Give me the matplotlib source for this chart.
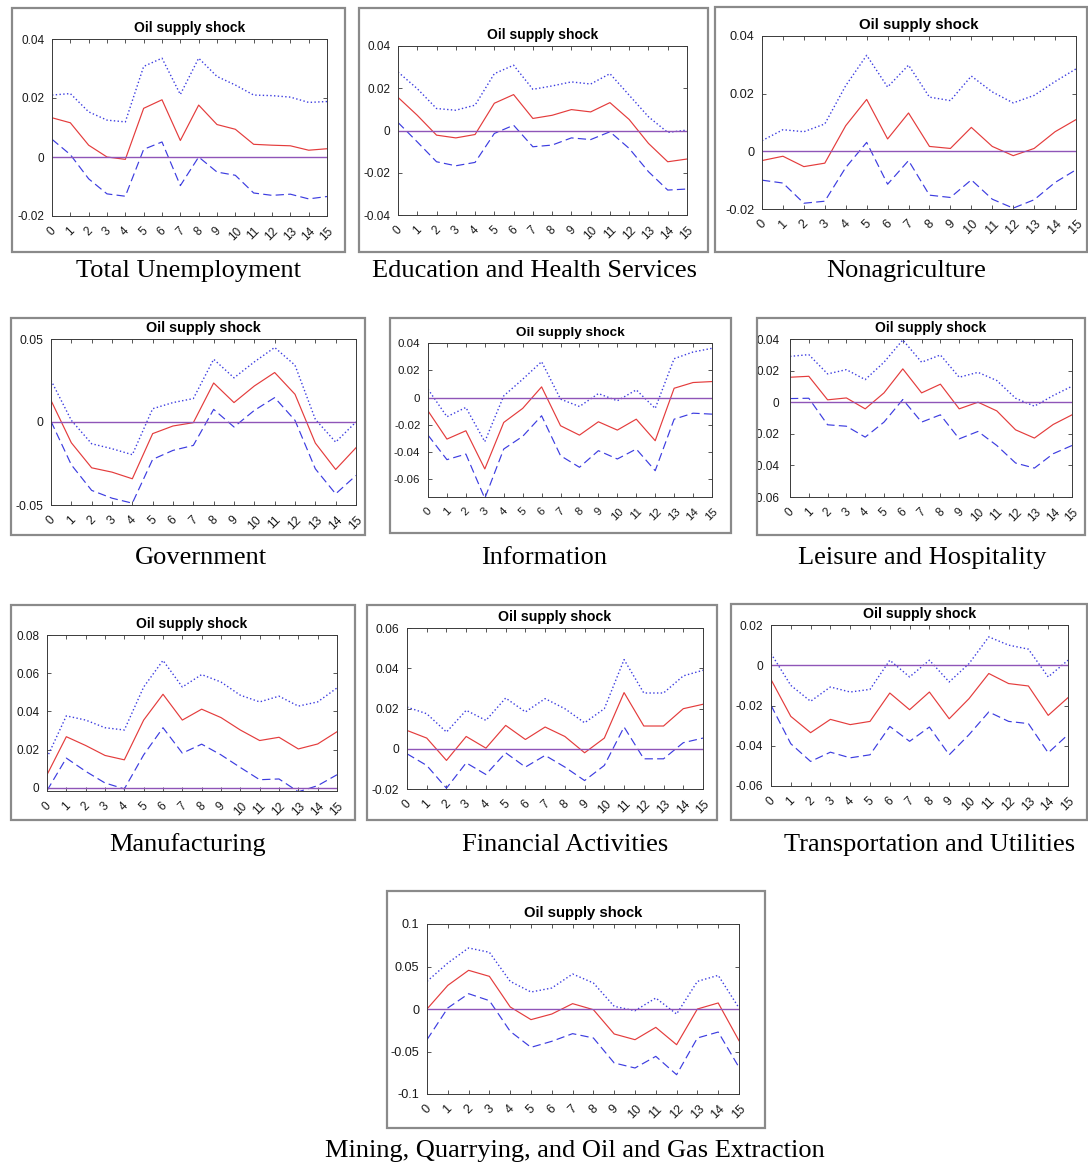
import matplotlib
matplotlib.use("Agg")
import matplotlib.pyplot as plt
from matplotlib.patches import Rectangle
from matplotlib.transforms import Bbox, TransformedBbox
from matplotlib.ticker import FixedLocator, FuncFormatter

plt.rcParams["axes.unicode_minus"] = False

horizons = list(range(16))

# Impulse responses to an oil supply shock: point estimate, upper and lower bands
total_unemp_irf = [0.0133, 0.0116, 0.0040, 0.0000, -0.0008, 0.0165, 0.0194, 0.0056, 0.0176, 0.0110, 0.0094, 0.0043, 0.0040, 0.0038, 0.0023, 0.0028]
total_unemp_hi = [0.0210, 0.0215, 0.0153, 0.0125, 0.0119, 0.0307, 0.0335, 0.0212, 0.0335, 0.0273, 0.0244, 0.0210, 0.0208, 0.0203, 0.0185, 0.0188]
total_unemp_lo = [0.0060, 0.0008, -0.0074, -0.0125, -0.0133, 0.0026, 0.0051, -0.0097, 0.0000, -0.0051, -0.0062, -0.0122, -0.0130, -0.0126, -0.0142, -0.0134]

education_irf = [0.0157, 0.0072, -0.0022, -0.0035, -0.0019, 0.0129, 0.0170, 0.0057, 0.0072, 0.0099, 0.0088, 0.0132, 0.0052, -0.0061, -0.0148, -0.0135]
education_hi = [0.0277, 0.0198, 0.0104, 0.0096, 0.0120, 0.0269, 0.0309, 0.0195, 0.0211, 0.0230, 0.0220, 0.0269, 0.0167, 0.0065, -0.0009, 0.0002]
education_lo = [0.0038, -0.0054, -0.0148, -0.0167, -0.0151, -0.0014, 0.0025, -0.0077, -0.0069, -0.0035, -0.0043, -0.0006, -0.0085, -0.0195, -0.0282, -0.0277]

nonag_irf = [-0.0032, -0.0017, -0.0053, -0.0041, 0.0089, 0.0180, 0.0043, 0.0133, 0.0017, 0.0010, 0.0083, 0.0017, -0.0015, 0.0010, 0.0068, 0.0110]
nonag_hi = [0.0037, 0.0075, 0.0068, 0.0095, 0.0228, 0.0333, 0.0223, 0.0299, 0.0188, 0.0176, 0.0261, 0.0206, 0.0168, 0.0194, 0.0242, 0.0286]
nonag_lo = [-0.0100, -0.0110, -0.0180, -0.0173, -0.0056, 0.0031, -0.0114, -0.0032, -0.0152, -0.0160, -0.0099, -0.0166, -0.0197, -0.0168, -0.0108, -0.0064]

government_irf = [0.0130, -0.0125, -0.0276, -0.0302, -0.0342, -0.0070, -0.0024, -0.0004, 0.0235, 0.0117, 0.0217, 0.0298, 0.0167, -0.0127, -0.0286, -0.0155]
government_hi = [0.0251, 0.0010, -0.0131, -0.0161, -0.0197, 0.0080, 0.0117, 0.0141, 0.0378, 0.0266, 0.0362, 0.0449, 0.0342, 0.0016, -0.0121, 0.0000]
government_lo = [0.0004, -0.0258, -0.0412, -0.0459, -0.0489, -0.0225, -0.0171, -0.0141, 0.0076, -0.0030, 0.0070, 0.0147, 0.0010, -0.0282, -0.0433, -0.0322]

information_irf = [-0.0098, -0.0305, -0.0244, -0.0524, -0.0183, -0.0080, 0.0078, -0.0207, -0.0276, -0.0178, -0.0239, -0.0159, -0.0317, 0.0068, 0.0110, 0.0117]
information_hi = [0.0061, -0.0141, -0.0073, -0.0324, 0.0012, 0.0134, 0.0263, -0.0012, -0.0066, 0.0029, -0.0024, 0.0056, -0.0080, 0.0285, 0.0334, 0.0361]
information_lo = [-0.0276, -0.0456, -0.0415, -0.0740, -0.0378, -0.0285, -0.0134, -0.0427, -0.0512, -0.0390, -0.0451, -0.0378, -0.0537, -0.0159, -0.0115, -0.0122]

leisure_irf = [0.0158, 0.0164, 0.0015, 0.0027, -0.0042, 0.0059, 0.0211, 0.0059, 0.0114, -0.0042, 0.0000, -0.0055, -0.0175, -0.0227, -0.0141, -0.0080]
leisure_hi = [0.0290, 0.0301, 0.0179, 0.0206, 0.0143, 0.0253, 0.0394, 0.0253, 0.0299, 0.0158, 0.0189, 0.0137, 0.0025, -0.0025, 0.0042, 0.0101]
leisure_lo = [0.0023, 0.0025, -0.0143, -0.0152, -0.0221, -0.0126, 0.0017, -0.0126, -0.0080, -0.0232, -0.0185, -0.0274, -0.0385, -0.0417, -0.0326, -0.0274]

manufacturing_irf = [0.0069, 0.0268, 0.0222, 0.0170, 0.0147, 0.0355, 0.0490, 0.0355, 0.0412, 0.0368, 0.0303, 0.0248, 0.0265, 0.0204, 0.0230, 0.0294]
manufacturing_hi = [0.0159, 0.0377, 0.0355, 0.0315, 0.0303, 0.0528, 0.0667, 0.0528, 0.0593, 0.0554, 0.0485, 0.0450, 0.0480, 0.0428, 0.0450, 0.0523]
manufacturing_lo = [-0.0014, 0.0156, 0.0087, 0.0026, -0.0005, 0.0173, 0.0315, 0.0182, 0.0229, 0.0173, 0.0107, 0.0043, 0.0047, -0.0020, 0.0012, 0.0069]

financial_irf = [0.0091, 0.0053, -0.0058, 0.0061, 0.0003, 0.0116, 0.0046, 0.0108, 0.0061, -0.0020, 0.0053, 0.0279, 0.0113, 0.0113, 0.0199, 0.0221]
financial_hi = [0.0207, 0.0174, 0.0083, 0.0191, 0.0141, 0.0252, 0.0183, 0.0249, 0.0199, 0.0129, 0.0199, 0.0443, 0.0277, 0.0277, 0.0362, 0.0390]
financial_lo = [-0.0025, -0.0083, -0.0196, -0.0070, -0.0128, -0.0020, -0.0091, -0.0033, -0.0091, -0.0158, -0.0083, 0.0108, -0.0050, -0.0050, 0.0030, 0.0053]

transport_irf = [-0.0071, -0.0254, -0.0335, -0.0269, -0.0295, -0.0279, -0.0138, -0.0221, -0.0133, -0.0266, -0.0166, -0.0041, -0.0091, -0.0103, -0.0249, -0.0161]
transport_hi = [0.0058, -0.0100, -0.0179, -0.0108, -0.0133, -0.0120, 0.0025, -0.0058, 0.0025, -0.0083, 0.0008, 0.0141, 0.0100, 0.0080, -0.0058, 0.0025]
transport_lo = [-0.0199, -0.0390, -0.0478, -0.0432, -0.0460, -0.0445, -0.0304, -0.0378, -0.0307, -0.0445, -0.0345, -0.0232, -0.0279, -0.0290, -0.0435, -0.0345]

mining_irf = [0.0000, 0.0278, 0.0455, 0.0384, 0.0024, -0.0125, -0.0059, 0.0063, -0.0008, -0.0294, -0.0361, -0.0216, -0.0420, 0.0000, 0.0071, -0.0373]
mining_hi = [0.0325, 0.0541, 0.0718, 0.0667, 0.0325, 0.0200, 0.0247, 0.0412, 0.0306, 0.0031, -0.0020, 0.0129, -0.0059, 0.0325, 0.0396, 0.0012]
mining_lo = [-0.0361, 0.0012, 0.0180, 0.0098, -0.0263, -0.0451, -0.0380, -0.0290, -0.0341, -0.0635, -0.0694, -0.0557, -0.0773, -0.0341, -0.0271, -0.0686]

sector_names = [
    "Total Unemployment", "Education and Health Services", "Nonagriculture",
    "Government", "Information", "Leisure and Hospitality",
    "Manufacturing", "Financial Activities", "Transportation and Utilities",
    "Mining, Quarrying, and Oil and Gas Extraction",
]
irf_series = [total_unemp_irf, education_irf, nonag_irf, government_irf, information_irf,
              leisure_irf, manufacturing_irf, financial_irf, transport_irf, mining_irf]
upper_series = [total_unemp_hi, education_hi, nonag_hi, government_hi, information_hi,
                leisure_hi, manufacturing_hi, financial_hi, transport_hi, mining_hi]
lower_series = [total_unemp_lo, education_lo, nonag_lo, government_lo, information_lo,
                leisure_lo, manufacturing_lo, financial_lo, transport_lo, mining_lo]

y_ticks = [
    [-0.02, 0, 0.02, 0.04],
    [-0.04, -0.02, 0, 0.02, 0.04],
    [-0.02, 0, 0.02, 0.04],
    [-0.05, 0, 0.05],
    [-0.06, -0.04, -0.02, 0, 0.02, 0.04],
    [-0.06, -0.04, -0.02, 0, 0.02, 0.04],
    [0, 0.02, 0.04, 0.06, 0.08],
    [-0.02, 0, 0.02, 0.04, 0.06],
    [-0.06, -0.04, -0.02, 0, 0.02],
    [-0.1, -0.05, 0, 0.05, 0.1],
]
y_limits = [
    (-0.02, 0.04), (-0.04, 0.04), (-0.02, 0.04), (-0.05, 0.05), (-0.073, 0.04),
    (-0.06, 0.04), (-0.0016, 0.08), (-0.02, 0.06), (-0.06, 0.02), (-0.1, 0.1),
]

# Layout in pixels from the top-left corner: frame box, plotting area, caption position,
# font scale and y tick label padding per panel
W, H = 1088, 1163
frames = [(12, 8, 345, 252), (359, 8, 708, 252), (715, 7, 1087, 252),
          (11, 318, 365, 535), (390, 318, 731, 533), (757, 318, 1085, 535),
          (11, 605, 355, 820), (367, 605, 717, 820), (731, 604, 1087, 820),
          (387, 891, 765, 1128)]
plot_areas = [(52, 39, 327, 216), (398, 46, 687, 215), (762, 36, 1076, 209),
              (51, 339, 356, 505), (428, 343, 712, 497), (790, 339, 1072, 497),
              (47, 635, 337, 791), (407, 628, 703, 789), (771, 625, 1068, 786),
              (427, 924, 739, 1094)]
captions_xy = [(189, 277), (534, 277), (906, 277),
               (201, 564), (544, 564), (922, 564),
               (188, 851), (565, 851), (930, 851),
               (575, 1157)]
font_scale = [1.0, 1.0, 1.08, 1.04, 0.97, 1.0, 1.0, 1.02, 1.02, 1.07]
ylabel_pad = [5.5, 5.5, 5.5, 5.5, 5.5, 7.5, 5.5, 5.5, 5.5, 5.5]

RED = "#e43c3c"
BLUE = "#3c3ce0"
ZERO = "#8f55b8"
AXC = "#3a3a3a"

fig = plt.figure(figsize=(W / 100, H / 100), dpi=100)
fig.patch.set_facecolor("white")


def px_rect(l, t, r, b):
    return [l / W, 1 - b / H, (r - l) / W, (b - t) / H]


fmt = FuncFormatter(lambda v, p: ("%g" % round(v, 4)))

for i in range(len(sector_names)):
    fl, ft, fr, fb = frames[i]
    fx, fy, fw, fh = px_rect(fl, ft, fr, fb)
    fig.add_artist(Rectangle((fx, fy), fw, fh, transform=fig.transFigure,
                             fill=False, edgecolor="#8a8a8a", linewidth=1.6))
    clip = TransformedBbox(Bbox.from_bounds(fx, fy, fw, fh), fig.transFigure)

    ax = fig.add_axes(px_rect(*plot_areas[i]))
    s = font_scale[i]
    ax.plot(horizons, upper_series[i], color=BLUE, lw=1.0, linestyle=(0, (1, 1.7)))
    ax.plot(horizons, lower_series[i], color=BLUE, lw=0.85, linestyle=(0, (7, 3.6)))
    ax.plot(horizons, irf_series[i], color=RED, lw=0.85)
    ax.axhline(0, color=ZERO, lw=1.0)

    ax.set_xlim(0, 15)
    ax.set_ylim(*y_limits[i])
    ax.xaxis.set_major_locator(FixedLocator(horizons))
    ax.yaxis.set_major_locator(FixedLocator(y_ticks[i]))
    ax.yaxis.set_major_formatter(fmt)
    ax.tick_params(direction="in", length=3, width=0.6, color=AXC,
                   top=True, right=True, labelsize=8.5 * s, labelcolor="#1a1a1a")
    ax.tick_params(axis="y", pad=ylabel_pad[i])
    ax.tick_params(axis="x", pad=6.5)
    for lbl in ax.get_xticklabels():
        lbl.set_rotation(45)
        lbl.set_horizontalalignment("center")
        lbl.set_fontfamily("Liberation Sans")
    for tk in ax.yaxis.get_major_ticks():
        tk.label1.set_fontfamily("Liberation Sans")
        tk.label1.set_clip_box(clip)
        tk.label1.set_clip_on(True)
    for sp in ax.spines.values():
        sp.set_color(AXC)
        sp.set_linewidth(0.7)
    ax.set_title("Oil supply shock", fontsize=10 * s, fontweight="bold",
                 family="Liberation Sans", pad=5)

    cx, cy = captions_xy[i]
    fig.text(cx / W, 1 - cy / H, sector_names[i], ha="center", va="baseline",
             fontsize=19, family="Liberation Serif", color="black")

fig.savefig("out.png", dpi=100, facecolor="white")
